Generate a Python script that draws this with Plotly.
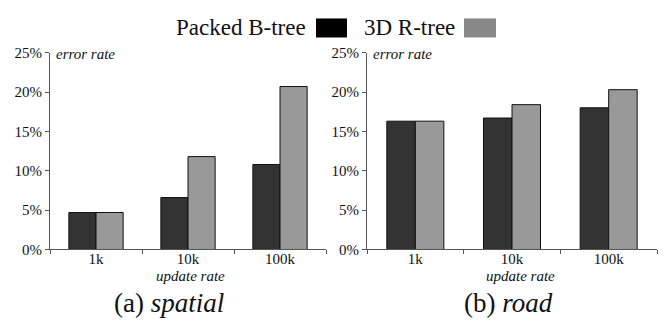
import plotly.graph_objects as go

categories = ["1k", "10k", "100k"]
spatial_packed = [4.7, 6.6, 10.8]
spatial_rtree = [4.7, 11.8, 20.7]
road_packed = [16.3, 16.7, 18.0]
road_rtree = [16.3, 18.4, 20.3]
y_ticks = [0, 5, 10, 15, 20, 25]
y_tick_labels = ["0%", "5%", "10%", "15%", "20%", "25%"]
series_names = ["Packed B-tree", "3D R-tree"]
captions = ["(a) <i>spatial</i>", "(b) <i>road</i>"]

W, H = 664, 325
DARK = "#333333"
GRAY = "#999999"
FONT = "Liberation Serif"
TXT = "#111111"

fig = go.Figure()

x_domains = [[50 / W, 326 / W], [367 / W, 657 / W]]
y_domain = [(H - 254) / H, (H - 47) / H]

data = [(spatial_packed, spatial_rtree), (road_packed, road_rtree)]
for i, (pk, rt) in enumerate(data):
    xa = "x" if i == 0 else "x2"
    ya = "y" if i == 0 else "y2"
    fig.add_trace(go.Bar(x=categories, y=pk, name=series_names[0],
                         marker=dict(color=DARK, line=dict(color="#111111", width=1)),
                         xaxis=xa, yaxis=ya, showlegend=False))
    fig.add_trace(go.Bar(x=categories, y=rt, name=series_names[1],
                         marker=dict(color=GRAY, line=dict(color="#111111", width=1)),
                         xaxis=xa, yaxis=ya, showlegend=False))

axis_common_x = dict(showline=True, linecolor="#555555", linewidth=1, ticks="outside", ticklen=4,
                     tickcolor="#555555", tickson="boundaries", showgrid=False, type="category",
                     tickfont=dict(family=FONT, size=15, color=TXT), ticklabelstandoff=-4)
axis_common_y = dict(showline=True, linecolor="#555555", linewidth=1, ticks="outside", ticklen=4,
                     tickcolor="#555555", range=[0, 25], tickvals=y_ticks, ticktext=y_tick_labels,
                     showgrid=False, zeroline=False, tickfont=dict(family=FONT, size=15, color=TXT),
                     ticklabelstandoff=0)

fig.update_layout(
    width=W, height=H, margin=dict(l=0, r=0, t=0, b=0, pad=0),
    paper_bgcolor="white", plot_bgcolor="white",
    barmode="group", bargap=0.41, bargroupgap=0,
    showlegend=False,
    xaxis=dict(domain=x_domains[0], anchor="y", **axis_common_x),
    yaxis=dict(domain=y_domain, anchor="x", **axis_common_y),
    xaxis2=dict(domain=x_domains[1], anchor="y2", **axis_common_x),
    yaxis2=dict(domain=y_domain, anchor="x2", **axis_common_y),
)

annotations = []
update_x = [190, 520]
caption_x = [169, 508]
for i in range(2):
    x0, x1 = x_domains[i]
    annotations.append(dict(text="<i>error rate</i>", xref="paper", yref="paper", x=x0 + 4 / W,
                            y=(H - 48) / H, xanchor="left", yanchor="middle", showarrow=False,
                            font=dict(family=FONT, size=15, color=TXT)))
    annotations.append(dict(text="<i>update rate</i>", xref="paper", yref="paper", x=update_x[i] / W,
                            y=(H - 282) / H, xanchor="center", yanchor="middle", showarrow=False,
                            font=dict(family=FONT, size=15, color=TXT)))
    annotations.append(dict(text=captions[i], xref="paper", yref="paper", x=caption_x[i] / W,
                            y=(H - 310) / H, xanchor="center", yanchor="middle", showarrow=False,
                            font=dict(family=FONT, size=27, color=TXT)))

# legend (text followed by swatch)
annotations.append(dict(text=series_names[0], xref="paper", yref="paper", x=308 / W, y=(H - 21) / H,
                        xanchor="right", yanchor="middle", showarrow=False,
                        font=dict(family=FONT, size=23, color=TXT)))
annotations.append(dict(text=series_names[1], xref="paper", yref="paper", x=362 / W, y=(H - 21) / H,
                        xanchor="left", yanchor="middle", showarrow=False,
                        font=dict(family=FONT, size=23, color=TXT)))
shapes = [
    dict(type="rect", xref="paper", yref="paper", x0=316 / W, x1=347 / W, y0=(H - 31) / H, y1=(H - 11) / H,
         fillcolor="#000000", line=dict(width=0)),
    dict(type="rect", xref="paper", yref="paper", x0=464 / W, x1=496 / W, y0=(H - 31) / H, y1=(H - 11) / H,
         fillcolor="#888888", line=dict(width=0)),
]
fig.update_layout(annotations=annotations, shapes=shapes)

fig.write_html("out.html", config={"displayModeBar": False},
               post_script="document.body.style.margin='0';")
